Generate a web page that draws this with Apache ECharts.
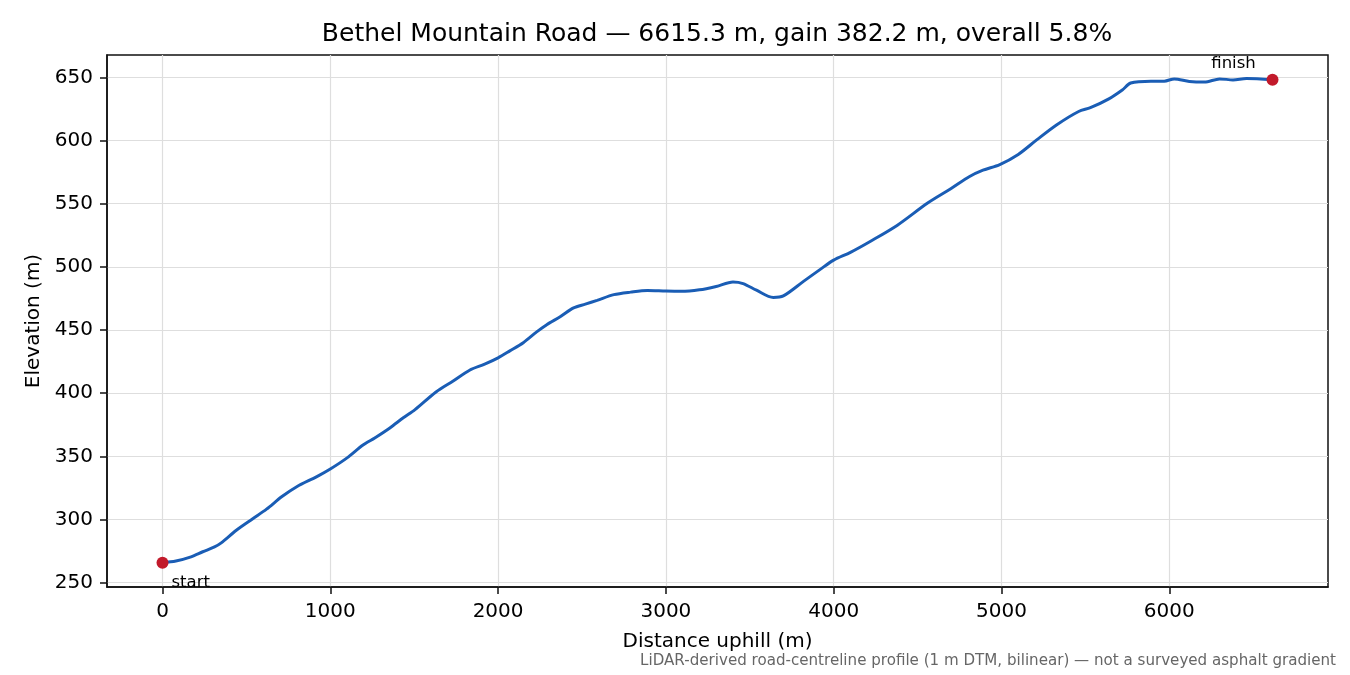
<!DOCTYPE html>
<html>
<head>
<meta charset="utf-8">
<script src="https://cdn.jsdelivr.net/npm/echarts@6/dist/echarts.min.js"></script>
<style>
  html, body { margin: 0; padding: 0; background: #fff; }
  #chart { width: 1350px; height: 675px; }
</style>
</head>
<body>
<div id="chart"></div>
<script>
// profile
var distance = [0, 80, 170, 240, 310, 350, 440, 540, 620, 710, 800, 920, 1000, 1100,
    1195, 1265, 1355, 1435, 1505, 1630, 1730, 1830, 1920, 2000, 2070, 2150, 2230,
    2290, 2370, 2450, 2520, 2590, 2690, 2790, 2890, 3000, 3090, 3200, 3300, 3400,
    3460, 3540, 3640, 3700, 3820, 3920, 4000, 4100, 4220, 4380, 4560, 4700, 4810,
    4890, 4990, 5100, 5210, 5330, 5460, 5530, 5640, 5720, 5770, 5890, 5970, 6030,
    6120, 6210, 6300, 6380, 6460, 6615.3];
var elevation = [265.8, 267.2, 270.5, 274.5, 278.3, 281.5, 291.5, 300.8, 308.2, 318.0,
    326.0, 334.0, 340.0, 348.8, 359.0, 364.6, 372.5, 380.5, 387.0, 401.0, 409.5,
    418.2, 423.0, 428.0, 433.5, 440.0, 448.5, 454.2, 460.5, 467.5, 470.5, 473.5,
    478.0, 480.0, 481.3, 480.8, 480.6, 481.8, 484.5, 488.0, 486.8, 481.5, 475.8,
    477.0, 488.5, 498.0, 505.3, 511.5, 520.3, 533.0, 550.5, 562.0, 571.5, 576.5,
    581.0, 589.0, 600.5, 612.5, 623.0, 626.0, 633.0, 640.0, 645.5, 647.0, 647.0,
    648.8, 646.8, 646.3, 648.8, 648.0, 649.0, 648.1];
var endLabels = ['start', 'finish'];
var xTicks = [0, 1000, 2000, 3000, 4000, 5000, 6000];
var yTicks = [250, 300, 350, 400, 450, 500, 550, 600, 650];

var titleText = 'Bethel Mountain Road \u2014 6615.3 m, gain 382.2 m, overall 5.8%';
var noteText = 'LiDAR-derived road-centreline profile (1 m DTM, bilinear) \u2014 not a surveyed asphalt gradient';

var font = 'DejaVu Sans';
var chart = echarts.init(document.getElementById('chart'));

var line = distance.map(function (d, i) { return [d, elevation[i]]; });
var last = distance.length - 1;

var option = {
    backgroundColor: '#fff',
    animation: false,
    textStyle: { fontFamily: font },
    title: [{
        text: titleText,
        left: 717,
        top: 22,
        padding: 0,
        textAlign: 'center',
        textStyle: { fontFamily: font, fontSize: 25, fontWeight: 'normal', color: '#000' }
    }, {
        text: noteText,
        right: 14,
        top: 654,
        padding: 0,
        textStyle: { fontFamily: font, fontSize: 15.1, fontWeight: 'normal', color: '#666' }
    }],
    grid: {
        left: 107, right: 22, top: 55, bottom: 88,
        show: true, borderColor: '#111', borderWidth: 1.5, backgroundColor: 'transparent'
    },
    xAxis: {
        type: 'value',
        min: -330.8,
        max: 6946.1,
        splitNumber: 7,
        name: 'Distance uphill (m)',
        nameLocation: 'middle',
        nameGap: 45,
        nameTextStyle: { fontFamily: font, fontSize: 20, color: '#000' },
        axisLine: { show: true, onZero: false, lineStyle: { color: '#111', width: 1.5 } },
        axisTick: { show: true, length: 7, customValues: xTicks, lineStyle: { color: '#111', width: 1.5 } },
        axisLabel: {
            customValues: xTicks, margin: 15, fontFamily: font, fontSize: 20, color: '#000',
            formatter: function (v) { return xTicks.indexOf(v) >= 0 ? String(v) : ''; }
        },
        splitLine: { show: true, lineStyle: { color: '#dedede', width: 1.2 } }
    },
    yAxis: {
        type: 'value',
        min: 246.6,
        max: 667.7,
        splitNumber: 8,
        name: 'Elevation (m)',
        nameLocation: 'middle',
        nameGap: 58,
        nameTextStyle: { fontFamily: font, fontSize: 20, color: '#000' },
        axisLine: { show: true, onZero: false, lineStyle: { color: '#111', width: 1.5 } },
        axisTick: { show: true, length: 7, customValues: yTicks, lineStyle: { color: '#111', width: 1.5 } },
        axisLabel: {
            customValues: yTicks, margin: 14, fontFamily: font, fontSize: 20, color: '#000',
            formatter: function (v) { return yTicks.indexOf(v) >= 0 ? String(v) : ''; }
        },
        splitLine: { show: true, lineStyle: { color: '#dedede', width: 1.2 } }
    },
    series: [{
        type: 'line',
        data: line,
        smooth: 0.3,
        showSymbol: false,
        lineStyle: { color: '#1a5db5', width: 3 },
        z: 2
    }, {
        type: 'scatter',
        symbolSize: 12,
        itemStyle: { color: '#c21a2b', opacity: 1 },
        z: 3,
        data: [{
            value: [distance[0], elevation[0]],
            label: {
                show: true, formatter: endLabels[0], position: 'right', distance: 3,
                offset: [0, 20], fontFamily: font, fontSize: 16.5, color: '#000'
            }
        }, {
            value: [distance[last], elevation[last]],
            label: {
                show: true, formatter: endLabels[1], position: 'top', distance: 2,
                offset: [-39, 0], fontFamily: font, fontSize: 16.5, color: '#000'
            }
        }]
    }]
};

chart.setOption(option);
</script>
</body>
</html>
